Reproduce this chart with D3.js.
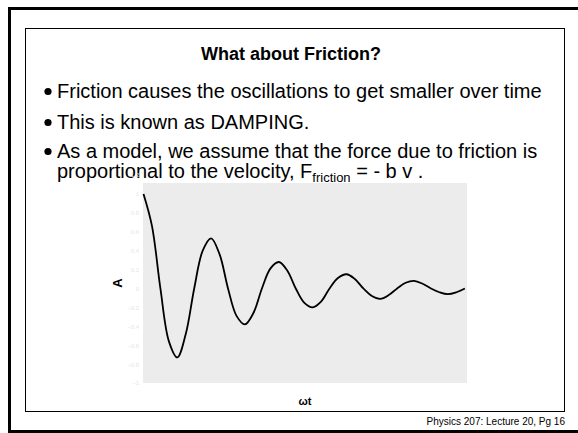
<!DOCTYPE html>
<html>
<head>
<meta charset="utf-8">
<script src="https://cdn.jsdelivr.net/npm/d3@7"></script>
<style>
  html, body { margin: 0; padding: 0; background: #fff; }
  svg { display: block; font-family: "Liberation Sans", Arial, sans-serif; }
</style>
</head>
<body>
<svg id="slide" width="578" height="433"></svg>
<script>
// Damped oscillation: amplitude A against phase ωt
const omegaT = [0, 0.79, 1.57, 2.36, 3.14, 3.93, 4.71, 5.50, 6.28, 7.07, 7.85, 8.64, 9.42,
  10.21, 11.00, 11.78, 12.57, 13.35, 14.14, 14.92, 15.71, 16.49, 17.28, 18.06, 18.85,
  19.63, 20.42, 21.21, 21.99, 22.78, 23.56, 24.35, 25.13, 25.92, 26.70, 27.49, 28.27,
  29.06, 29.85];
const amplitude = [1.00, 0.66, 0.00, -0.56, -0.73, -0.48, 0.00, 0.40, 0.53, 0.36, 0.00,
  -0.29, -0.38, -0.26, 0.00, 0.21, 0.28, 0.19, 0.00, -0.15, -0.20, -0.14, 0.00, 0.11,
  0.15, 0.10, 0.00, -0.08, -0.11, -0.07, 0.00, 0.06, 0.08, 0.05, 0.00, -0.04, -0.06,
  -0.04, 0.00];
const yTicks = [1.2, 1, 0.8, 0.6, 0.4, 0.2, 0, -0.2, -0.4, -0.6, -0.8, -1];

const slideTitle = "What about Friction?";
const bullets = [
  "Friction causes the oscillations to get smaller over time",
  "This is known as DAMPING.",
  "As a model, we assume that the force due to friction is"
];
const footer = "Physics 207: Lecture 20, Pg 16";

const svg = d3.select("#slide");

// slide frame
svg.append("path")
  .attr("d", "M9.5,433 V8.5 H578")
  .attr("fill", "none").attr("stroke", "#000").attr("stroke-width", 3);
svg.append("path")
  .attr("d", "M8,431.5 H578")
  .attr("fill", "none").attr("stroke", "#000").attr("stroke-width", 3);
svg.append("rect")
  .attr("x", 25.5).attr("y", 28.5).attr("width", 539).attr("height", 383)
  .attr("fill", "none").attr("stroke", "#000").attr("stroke-width", 1);

// title and bullet text
svg.append("text")
  .attr("x", 291).attr("y", 60)
  .attr("text-anchor", "middle")
  .attr("font-weight", "bold").attr("font-size", 18)
  .text(slideTitle);

const bodySize = 20;
const bulletY = [98, 129, 158];
bullets.forEach((b, i) => {
  svg.append("circle").attr("cx", 48).attr("cy", bulletY[i] - 6.5).attr("r", 3.6).attr("fill", "#000");
  svg.append("text").attr("x", 57).attr("y", bulletY[i]).attr("font-size", bodySize).text(b);
});
const last = svg.append("text").attr("x", 57).attr("y", 178).attr("font-size", bodySize);
last.append("tspan").text("proportional to the velocity, F");
last.append("tspan").attr("font-size", 13).attr("dy", 4).text("friction");
last.append("tspan").attr("dy", -4).text(" = - b v .");

svg.append("text")
  .attr("x", 565).attr("y", 425)
  .attr("text-anchor", "end").attr("font-size", 10)
  .text(footer);

// chart
const plot = { left: 143, right: 467, top: 183, bottom: 383 };
const x = d3.scaleLinear().domain([0, 30]).range([plot.left + 0.5, plot.right - 0.5]);
const y = d3.scaleLinear().domain([-1, 1.2]).range([plot.bottom, 175]);

svg.append("rect")
  .attr("x", plot.left).attr("y", plot.top)
  .attr("width", plot.right - plot.left).attr("height", plot.bottom - plot.top)
  .attr("fill", "#ececec");

const yAxis = svg.append("g")
  .attr("transform", `translate(${plot.left},0)`)
  .call(d3.axisLeft(y).tickValues(yTicks).tickSize(0).tickPadding(4).tickFormat(d3.format("")));
yAxis.select(".domain").remove();
yAxis.selectAll("text").attr("fill", "#e6e6e6").attr("font-size", 6)
  .attr("font-family", "Liberation Sans, Arial, sans-serif");

const pts = omegaT.map((t, i) => [t, amplitude[i]]);
svg.append("path")
  .datum(pts)
  .attr("fill", "none").attr("stroke", "#000").attr("stroke-width", 1.8)
  .attr("d", d3.line().x(d => x(d[0])).y(d => y(d[1])).curve(d3.curveCatmullRom.alpha(0.5)));

svg.append("text")
  .attr("transform", "translate(122,283) rotate(-90)")
  .attr("text-anchor", "middle").attr("font-weight", "bold").attr("font-size", 13)
  .text("A");
svg.append("text")
  .attr("x", 305).attr("y", 405)
  .attr("text-anchor", "middle").attr("font-weight", "bold").attr("font-size", 11)
  .text("ωt");
</script>
</body>
</html>
